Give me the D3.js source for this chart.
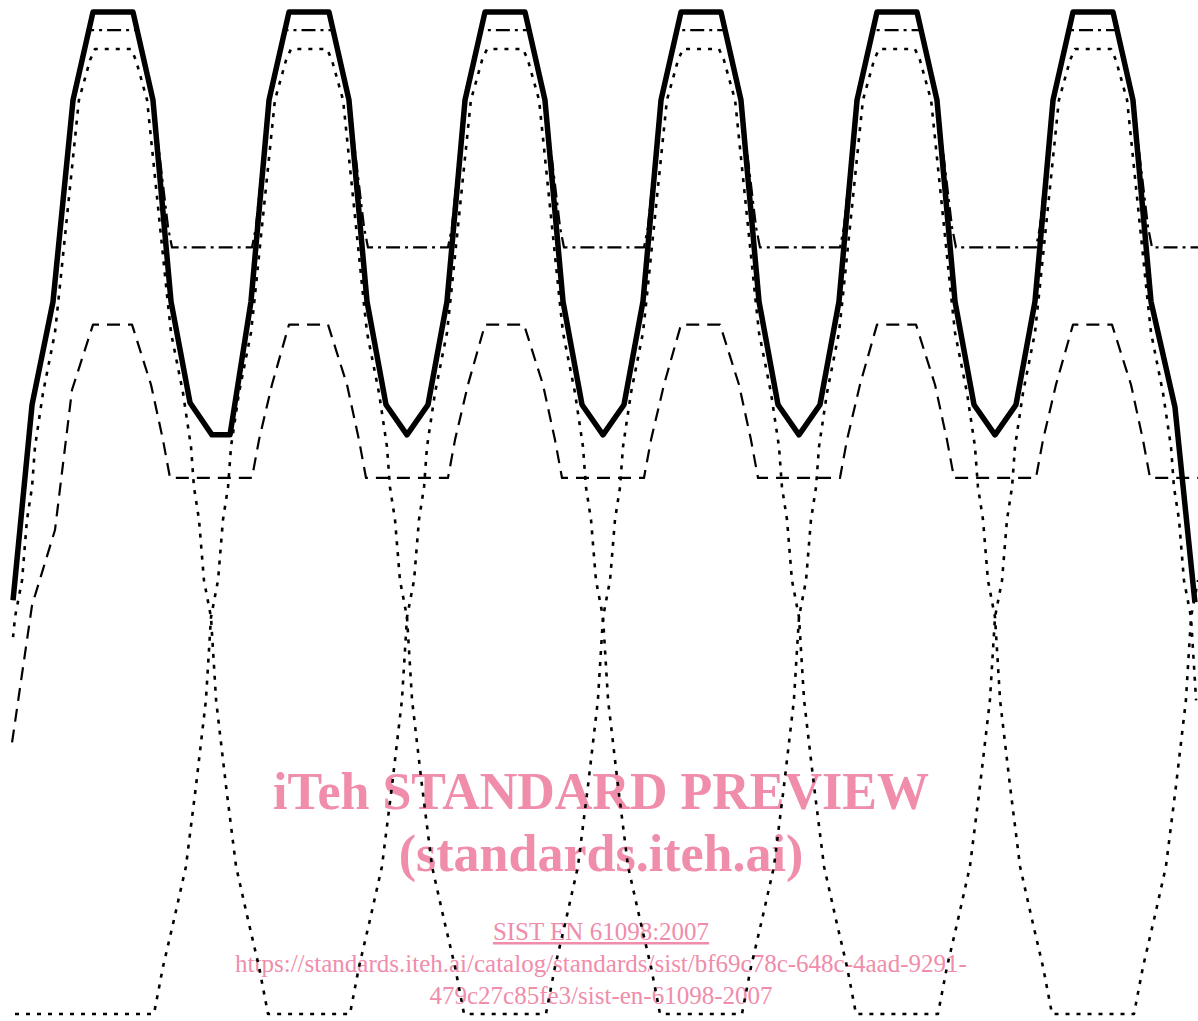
<!DOCTYPE html>
<html>
<head>
<meta charset="utf-8">
<script src="https://cdn.jsdelivr.net/npm/d3@7"></script>
<style>
  html, body { margin: 0; padding: 0; background: #fff; }
  svg { display: block; }
</style>
</head>
<body>
<svg id="chart" width="1198" height="1021"></svg>
<script>
// time in ms (50 Hz supply), amplitude in % of peak

var thickLine = [
  [-0.10,41.3],[0.87,60.8],[1.94,71.1],[2.96,91.2],[3.98,100],[6.02,100],[7.04,91.2],[7.96,71.1],[8.93,61.0],[10.05,57.8],[10.97,57.8],
  [12.04,71.1],[12.96,91.2],[13.98,100],[16.02,100],[17.04,91.2],[17.96,71.1],[18.93,60.8],[20.00,57.8],
  [21.07,60.8],[22.04,71.1],[22.96,91.2],[23.98,100],[26.02,100],[27.04,91.2],[27.96,71.1],[28.93,60.8],[30.00,57.8],
  [31.07,60.8],[32.04,71.1],[32.96,91.2],[33.98,100],[36.02,100],[37.04,91.2],[37.96,71.1],[38.93,60.8],[40.00,57.8],
  [41.07,60.8],[42.04,71.1],[42.96,91.2],[43.98,100],[46.02,100],[47.04,91.2],[47.96,71.1],[48.93,60.8],[50.00,57.8],
  [51.07,60.8],[52.04,71.1],[52.96,91.2],[53.98,100],[56.02,100],[57.04,91.2],[57.96,71.1],[59.18,60.6],[60.20,41.1]
];

var dashDotLine = [
  [-0.10,41.3],[0.87,60.8],[1.94,71.1],[2.96,91.2],[3.78,98.2],[6.22,98.2],[7.04,91.2],[7.81,78.5],[8.01,76.5],
  [12.09,76.5],[12.29,78.5],[12.96,91.2],[13.78,98.2],[16.22,98.2],[17.04,91.2],[17.81,78.5],[18.01,76.5],
  [22.09,76.5],[22.29,78.5],[22.96,91.2],[23.78,98.2],[26.22,98.2],[27.04,91.2],[27.81,78.5],[28.01,76.5],
  [32.09,76.5],[32.29,78.5],[32.96,91.2],[33.78,98.2],[36.22,98.2],[37.04,91.2],[37.81,78.5],[38.01,76.5],
  [42.09,76.5],[42.29,78.5],[42.96,91.2],[43.78,98.2],[46.22,98.2],[47.04,91.2],[47.81,78.5],[48.01,76.5],
  [52.09,76.5],[52.29,78.5],[52.96,91.2],[53.78,98.2],[56.22,98.2],[57.04,91.2],[57.81,78.5],[58.01,76.5],[60.36,76.5]
];

var dashedLine = [
  [-0.15,27.1],[0.87,40.8],[2.04,48.3],[2.91,62.3],[3.98,68.8],[5.97,68.8],[6.94,62.8],[7.55,57.3],[7.91,53.5],
  [12.09,53.5],[12.45,57.3],[13.11,62.8],[13.98,68.8],[15.97,68.8],[16.94,62.8],[17.55,57.3],[17.91,53.5],
  [22.09,53.5],[22.45,57.3],[23.11,62.8],[23.98,68.8],[25.97,68.8],[26.94,62.8],[27.55,57.3],[27.91,53.5],
  [32.09,53.5],[32.45,57.3],[33.11,62.8],[33.98,68.8],[35.97,68.8],[36.94,62.8],[37.55,57.3],[37.91,53.5],
  [42.09,53.5],[42.45,57.3],[43.11,62.8],[43.98,68.8],[45.97,68.8],[46.94,62.8],[47.55,57.3],[47.91,53.5],
  [52.09,53.5],[52.45,57.3],[53.11,62.8],[53.98,68.8],[55.97,68.8],[56.94,62.8],[57.55,57.3],[57.91,53.5],[60.36,53.5]
];

// phase 1 (peaks at 5, 25, 45 ms)
var phaseOne = [
  [-0.10,37.6],[0.00,39.6],[0.36,43.3],[0.61,49.3],[0.87,52.6],[1.02,56.6],[1.43,62.0],[2.04,68.0],[2.22,71.3],[3.26,91.2],[3.83,95.2],[4.08,96.3],
  [5.92,96.3],[6.17,95.2],[6.74,91.2],[7.78,71.3],[7.96,68.0],[8.57,62.0],[8.98,56.6],[9.13,52.6],[9.39,49.3],[9.64,43.3],[10.00,39.6],[10.26,31.3],[10.77,22.7],[11.28,14.7],[11.89,9.4],[12.45,4.7],[12.91,0],
  [17.09,0],[17.55,4.7],[18.11,9.4],[18.72,14.7],[19.23,22.7],[19.74,31.3],[20.00,39.6],[20.36,43.3],[20.61,49.3],[20.87,52.6],[21.02,56.6],[21.43,62.0],[22.04,68.0],[22.22,71.3],[23.26,91.2],[23.83,95.2],[24.08,96.3],
  [25.92,96.3],[26.17,95.2],[26.74,91.2],[27.78,71.3],[27.96,68.0],[28.57,62.0],[28.98,56.6],[29.13,52.6],[29.39,49.3],[29.64,43.3],[30.00,39.6],[30.26,31.3],[30.77,22.7],[31.28,14.7],[31.89,9.4],[32.45,4.7],[32.91,0],
  [37.09,0],[37.55,4.7],[38.11,9.4],[38.72,14.7],[39.23,22.7],[39.74,31.3],[40.00,39.6],[40.36,43.3],[40.61,49.3],[40.87,52.6],[41.02,56.6],[41.43,62.0],[42.04,68.0],[42.22,71.3],[43.26,91.2],[43.83,95.2],[44.08,96.3],
  [45.92,96.3],[46.17,95.2],[46.74,91.2],[47.78,71.3],[47.96,68.0],[48.57,62.0],[48.98,56.6],[49.13,52.6],[49.39,49.3],[49.64,43.3],[50.00,39.6],[50.26,31.3],[50.77,22.7],[51.28,14.7],[51.89,9.4],[52.45,4.7],[52.91,0],
  [57.09,0],[57.55,4.7],[58.11,9.4],[58.72,14.7],[59.23,22.7],[59.74,31.3],[60.00,39.6],[60.36,43.3]
];

// phase 2 (peaks at 15, 35, 55 ms)
var phaseTwo = [
  [0.00,0],
  [7.09,0],[7.55,4.7],[8.11,9.4],[8.72,14.7],[9.23,22.7],[9.74,31.3],[10.00,39.6],[10.36,43.3],[10.61,49.3],[10.87,52.6],[11.02,56.6],[11.43,62.0],[12.04,68.0],[12.22,71.3],[13.26,91.2],[13.83,95.2],[14.08,96.3],
  [15.92,96.3],[16.17,95.2],[16.74,91.2],[17.78,71.3],[17.96,68.0],[18.57,62.0],[18.98,56.6],[19.13,52.6],[19.39,49.3],[19.64,43.3],[20.00,39.6],[20.26,31.3],[20.77,22.7],[21.28,14.7],[21.89,9.4],[22.45,4.7],[22.91,0],
  [27.09,0],[27.55,4.7],[28.11,9.4],[28.72,14.7],[29.23,22.7],[29.74,31.3],[30.00,39.6],[30.36,43.3],[30.61,49.3],[30.87,52.6],[31.02,56.6],[31.43,62.0],[32.04,68.0],[32.22,71.3],[33.26,91.2],[33.83,95.2],[34.08,96.3],
  [35.92,96.3],[36.17,95.2],[36.74,91.2],[37.78,71.3],[37.96,68.0],[38.57,62.0],[38.98,56.6],[39.13,52.6],[39.39,49.3],[39.64,43.3],[40.00,39.6],[40.26,31.3],[40.77,22.7],[41.28,14.7],[41.89,9.4],[42.45,4.7],[42.91,0],
  [47.09,0],[47.55,4.7],[48.11,9.4],[48.72,14.7],[49.23,22.7],[49.74,31.3],[50.00,39.6],[50.36,43.3],[50.61,49.3],[50.87,52.6],[51.02,56.6],[51.43,62.0],[52.04,68.0],[52.22,71.3],[53.26,91.2],[53.83,95.2],[54.08,96.3],
  [55.92,96.3],[56.17,95.2],[56.74,91.2],[57.78,71.3],[57.96,68.0],[58.57,62.0],[58.98,56.6],[59.13,52.6],[59.39,49.3],[59.64,43.3],[60.00,39.6],[60.26,31.3]
];

var watermarkBig = ["iTeh STANDARD PREVIEW", "(standards.iteh.ai)"];
var watermarkSmall = ["https://standards.iteh.ai/catalog/standards/sist/bf69c78c-648c-4aad-9291-", "479c27c85fe3/sist-en-61098-2007"];
var docTitle = "SIST EN 61098:2007";

var width = 1198, height = 1021;
var svg = d3.select("#chart");

var x = d3.scaleLinear().domain([0, 60]).range([15, 1191]);
var y = d3.scaleLinear().domain([0, 100]).range([1014, 12]);

var line = d3.line()
    .x(function (d) { return x(d[0]); })
    .y(function (d) { return y(d[1]); });

svg.append("rect")
    .attr("width", width)
    .attr("height", height)
    .attr("fill", "#fff");

// watermark under the curves
var pink = "#ef8dab";
var wm = svg.append("g")
    .attr("font-family", "'Liberation Serif', 'Times New Roman', serif")
    .attr("fill", pink)
    .attr("text-anchor", "middle");

wm.selectAll(".big")
    .data(watermarkBig)
    .enter()
    .append("text")
    .attr("class", "big")
    .attr("x", 601)
    .attr("y", function (d, i) { return 809 + i * 62; })
    .attr("font-size", 52)
    .attr("font-weight", "bold")
    .text(function (d) { return d; });

wm.append("text")
    .attr("x", 601)
    .attr("y", 940)
    .attr("font-size", 25)
    .attr("text-decoration", "underline")
    .text(docTitle);

wm.selectAll(".small")
    .data(watermarkSmall)
    .enter()
    .append("text")
    .attr("class", "small")
    .attr("x", 601)
    .attr("y", function (d, i) { return 972 + i * 32; })
    .attr("font-size", 25)
    .text(function (d) { return d; });

var series = [
  { data: phaseOne, width: 2.6, dash: "4,7" },
  { data: phaseTwo, width: 2.6, dash: "4,7" },
  { data: dashedLine, width: 2.2, dash: "13,8" },
  { data: dashDotLine, width: 2.2, dash: "14,5,3,5" },
  { data: thickLine, width: 5.5, dash: null }
];

svg.selectAll(".curve")
    .data(series)
    .enter()
    .append("path")
    .attr("class", "curve")
    .attr("d", function (d) { return line(d.data); })
    .attr("fill", "none")
    .attr("stroke", "#000")
    .attr("stroke-width", function (d) { return d.width; })
    .attr("stroke-dasharray", function (d) { return d.dash; })
    .attr("stroke-linejoin", "round");
</script>
</body>
</html>
